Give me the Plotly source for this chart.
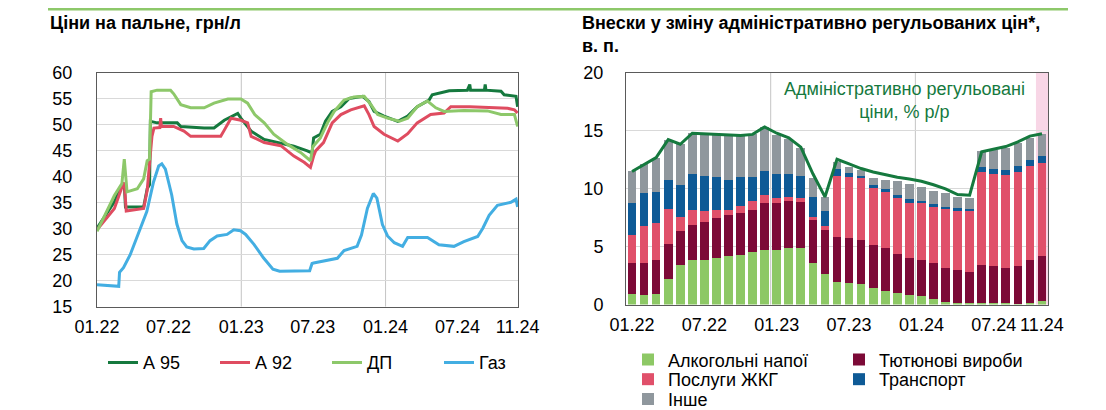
import plotly.graph_objects as go

# --- fuel prices, UAH per litre ---
a95_dates = ['2022-01-01', '2022-02-14', '2022-03-01', '2022-03-11', '2022-03-14', '2022-04-29',
             '2022-05-08', '2022-05-14', '2022-05-16', '2022-06-02', '2022-07-23', '2022-08-01',
             '2022-09-29', '2022-10-24', '2022-11-19', '2022-12-23', '2022-12-31', '2023-01-09',
             '2023-01-26', '2023-02-28', '2023-04-11', '2023-05-14', '2023-06-17', '2023-06-29',
             '2023-07-03', '2023-07-20', '2023-08-02', '2023-08-19', '2023-09-10', '2023-10-01',
             '2023-11-04', '2023-11-20', '2023-12-03', '2023-12-28', '2024-02-01', '2024-02-26',
             '2024-03-21', '2024-04-20', '2024-04-28', '2024-06-10', '2024-07-26', '2024-08-01',
             '2024-08-03', '2024-09-07', '2024-09-09', '2024-09-11', '2024-10-19', '2024-10-27',
             '2024-11-26', '2024-11-30']
a95 = [30.1, 35.2, 37.7, 38.7, 34.2, 34.2,
       37.7, 38.5, 50.7, 50.4, 50.4, 49.7,
       49.4, 49.4, 50.9, 52.2, 51.3, 50.5,
       48.8, 47.2, 46.5, 45.9, 45.0, 44.6,
       47.5, 48.2, 50.7, 52.6, 53.5, 55.1,
       55.5, 54.5, 52.6, 51.7, 50.7, 51.7,
       53.5, 54.8, 55.8, 56.6, 56.7, 57.8,
       56.7, 56.7, 57.8, 56.7, 56.5, 55.8,
       55.5, 53.5]

a92_dates = ['2022-01-01', '2022-02-14', '2022-03-05', '2022-03-11', '2022-03-16', '2022-04-29',
             '2022-05-08', '2022-05-20', '2022-05-25', '2022-06-09', '2022-06-11', '2022-06-13',
             '2022-07-14', '2022-08-09', '2022-08-26', '2022-11-10', '2022-11-19', '2022-12-06',
             '2022-12-31', '2023-01-17', '2023-01-26', '2023-02-28', '2023-04-11', '2023-05-14',
             '2023-06-09', '2023-06-25', '2023-07-03', '2023-07-08', '2023-07-28', '2023-08-19',
             '2023-09-10', '2023-10-05', '2023-11-08', '2023-11-20', '2023-12-03', '2023-12-28',
             '2024-02-01', '2024-02-26', '2024-03-21', '2024-04-24', '2024-05-28', '2024-06-14',
             '2024-08-01', '2024-09-15', '2024-11-05', '2024-11-22', '2024-11-30']
a92 = [29.8, 33.9, 38.0, 38.9, 33.4, 33.9,
       37.4, 47.8, 49.4, 49.5, 51.3, 49.7,
       49.7, 48.8, 47.8, 47.8, 49.0, 51.3,
       50.9, 50.4, 47.8, 46.6, 46.0, 44.0,
       42.8, 41.8, 44.0, 45.0, 46.6, 50.4,
       52.0, 52.9, 53.7, 52.0, 49.7, 48.2,
       46.9, 48.3, 50.4, 52.0, 52.3, 53.5,
       53.5, 53.4, 53.2, 52.9, 52.3]

dp_dates = ['2022-01-01', '2022-02-14', '2022-03-05', '2022-03-11', '2022-03-18', '2022-04-13',
            '2022-04-29', '2022-05-08', '2022-05-14', '2022-05-18', '2022-06-02', '2022-07-06',
            '2022-07-14', '2022-08-01', '2022-08-26', '2022-09-29', '2022-10-24', '2022-11-28',
            '2022-12-31', '2023-01-17', '2023-02-04', '2023-02-28', '2023-03-24', '2023-04-27',
            '2023-05-31', '2023-06-25', '2023-07-01', '2023-07-20', '2023-08-07', '2023-08-24',
            '2023-09-18', '2023-10-13', '2023-11-08', '2023-11-25', '2023-12-12', '2024-01-06',
            '2024-02-05', '2024-02-26', '2024-03-21', '2024-04-16', '2024-05-07', '2024-05-28',
            '2024-07-17', '2024-09-15', '2024-10-19', '2024-11-22', '2024-11-30']
dp = [29.5, 36.4, 38.7, 43.4, 37.1, 37.7,
      39.6, 43.1, 43.4, 56.4, 56.7, 56.7,
      56.0, 53.9, 53.3, 53.3, 54.2, 55.0,
      55.0, 54.2, 52.0, 50.4, 48.2, 46.3,
      44.7, 43.1, 45.8, 47.5, 50.4, 52.6,
      54.8, 55.4, 55.5, 53.9, 52.0, 51.3,
      50.7, 51.3, 53.5, 54.6, 53.3, 52.6,
      52.8, 52.7, 52.0, 52.0, 49.7]

gas_dates = ['2022-01-01', '2022-02-01', '2022-02-25', '2022-02-27', '2022-03-09', '2022-03-26',
             '2022-04-20', '2022-05-07', '2022-05-24', '2022-06-06', '2022-06-14', '2022-06-23',
             '2022-07-01', '2022-07-09', '2022-07-22', '2022-08-04', '2022-08-16', '2022-09-03',
             '2022-09-28', '2022-10-14', '2022-11-01', '2022-11-26', '2022-12-13', '2022-12-30',
             '2023-01-12', '2023-02-02', '2023-02-26', '2023-03-22', '2023-04-08', '2023-06-23',
             '2023-06-29', '2023-07-03', '2023-09-01', '2023-09-18', '2023-10-21', '2023-11-01',
             '2023-11-16', '2023-12-01', '2023-12-10', '2023-12-24', '2024-01-06', '2024-01-23',
             '2024-02-13', '2024-02-26', '2024-04-16', '2024-05-15', '2024-06-22', '2024-07-17',
             '2024-08-21', '2024-09-03', '2024-09-19', '2024-10-10', '2024-11-13', '2024-11-26',
             '2024-11-30']
gas = [19.2, 19.0, 18.9, 21.6, 22.5, 25.0,
       30.1, 33.3, 39.0, 42.1, 42.5, 41.5,
       39.0, 36.5, 30.9, 27.7, 26.5, 26.1,
       26.2, 27.7, 28.6, 28.9, 29.8, 29.6,
       28.9, 27.0, 24.4, 22.2, 21.8, 21.9,
       23.3, 23.4, 24.3, 25.8, 26.6, 28.8,
       33.9, 36.8, 35.9, 30.8, 28.6, 27.3,
       26.6, 28.3, 28.3, 26.9, 26.6, 27.5,
       28.5, 30.1, 32.6, 34.5, 35.1, 35.7,
       34.2]

fuel_ticks = ['2022-01-01', '2022-07-01', '2023-01-01', '2023-07-01', '2024-01-01', '2024-07-01', '2024-11-30']
fuel_ticktext = ['01.22', '07.22', '01.23', '07.23', '01.24', '07.24', '11.24']

# --- contributions to administered prices change, p.p. (01.22 .. 11.24) ---
months = list(range(35))
month_ticks = [0, 6, 12, 18, 24, 30, 34]
month_ticktext = ['01.22', '07.22', '01.23', '07.23', '01.24', '07.24', '11.24']

alcohol = [0.9, 0.8, 0.95, 2.2, 3.45, 3.85, 3.85, 4.05, 4.2, 4.3, 4.5, 4.75, 4.7, 4.85, 4.85, 3.55, 2.6, 1.95,
           1.9, 1.75, 1.45, 1.2, 1.0, 0.8, 0.7, 0.45, 0.25, 0.15, 0.1, 0.1, 0.1, 0.1, 0.08, 0.15, 0.3]
tobacco = [2.7, 2.8, 2.9, 3.0, 2.9, 3.05, 3.25, 3.45, 3.5, 3.6, 3.7, 4.0, 4.1, 4.1, 4.05, 3.75, 3.8, 3.85,
           3.85, 3.8, 3.7, 3.7, 3.4, 3.25, 3.15, 3.1, 2.95, 2.8, 2.7, 3.35, 3.25, 3.1, 3.25, 3.7, 3.9]
utilities = [2.45, 3.15, 3.2, 3.05, 1.2, 1.25, 1.0, 0.65, 0.45, 0.65, 0.75, 0.7, 0.4, 0.35, 0.3, 0.3, 0.35, 5.3,
             5.25, 5.35, 5.0, 4.9, 4.8, 4.75, 4.9, 4.9, 5.05, 5.15, 5.25, 8.0, 7.95, 8.0, 8.1, 8.1, 8.05]
transport = [2.7, 2.85, 2.7, 2.55, 2.75, 3.1, 3.05, 2.85, 2.65, 2.45, 2.1, 2.05, 2.05, 1.95, 1.9, 1.7, 1.3, 0.6,
             0.4, 0.2, 0.15, 0.15, 0.25, 0.3, 0.2, 0.25, 0.2, 0.2, 0.2, 0.4, 0.4, 0.45, 0.5, 0.5, 0.6]
other = [2.75, 2.55, 2.95, 3.4, 3.55, 3.55, 3.6, 3.7, 3.9, 3.6, 3.65, 3.8, 3.4, 3.05, 2.45, 1.6, 1.25, 0.6,
         0.5, 0.5, 0.65, 0.85, 1.25, 1.35, 1.2, 1.15, 1.15, 1.0, 0.95, 1.45, 1.65, 1.9, 2.0, 1.95, 1.85]
admin_yoy = [11.5, 12.1, 12.7, 14.25, 13.85, 14.8, 14.75, 14.7, 14.7, 14.6, 14.7, 15.35, 14.8, 14.4, 13.6, 11.3,
             9.3, 12.55, 12.15, 11.75, 11.45, 11.2, 11.0, 10.85, 10.65, 10.35, 10.0, 9.5, 9.45, 13.2, 13.4,
             13.65, 14.05, 14.55, 14.75]

W, H = 1106, 410
FONT = 'Liberation Sans, Arial, sans-serif'
FRAME = '#5a5a5a'
GRID = '#d9d9d9'
DKGREEN = '#15793E'

fig = go.Figure()

fig.add_trace(go.Scatter(x=a95_dates, y=a95, name='А 95', mode='lines',
                         line=dict(color=DKGREEN, width=3), xaxis='x', yaxis='y', legend='legend'))
fig.add_trace(go.Scatter(x=a92_dates, y=a92, name='А 92', mode='lines',
                         line=dict(color='#DF4C60', width=3), xaxis='x', yaxis='y', legend='legend'))
fig.add_trace(go.Scatter(x=dp_dates, y=dp, name='ДП', mode='lines',
                         line=dict(color='#8DC86A', width=3), xaxis='x', yaxis='y', legend='legend'))
fig.add_trace(go.Scatter(x=gas_dates, y=gas, name='Газ', mode='lines',
                         line=dict(color='#43AEE2', width=3), xaxis='x', yaxis='y', legend='legend'))

bars = [
    ('Алкогольні напої', alcohol, '#8DC865', 'legend2'),
    ('Тютюнові вироби', tobacco, '#7C0A37', 'legend2'),
    ('Послуги ЖКГ', utilities, '#E0506A', 'legend3'),
    ('Транспорт', transport, '#0E5A96', 'legend3'),
    ('Інше', other, '#8F979D', 'legend4'),
]
for name, vals, col, lg in bars:
    fig.add_trace(go.Bar(x=months, y=vals, name=name, marker=dict(color=col, line=dict(width=0)),
                         xaxis='x2', yaxis='y2', legend=lg))

fig.add_trace(go.Scatter(x=months, y=admin_yoy, mode='lines', showlegend=False,
                         line=dict(color=DKGREEN, width=3), xaxis='x2', yaxis='y2'))

axis_common = dict(showline=True, mirror=True, linecolor=FRAME, linewidth=1, ticks='',
                   tickfont=dict(size=18, color='#000'), zeroline=False, automargin=False,
                   tickangle=0)

leg_common = dict(orientation='h', xanchor='left', yanchor='middle', traceorder='normal',
                  font=dict(size=18, color='#000'), bgcolor='rgba(0,0,0,0)')

fig.update_layout(
    width=W, height=H,
    margin=dict(l=0, r=0, t=0, b=0),
    paper_bgcolor='white', plot_bgcolor='white',
    font=dict(family=FONT, size=18, color='#000'),
    barmode='stack', bargap=0.28,
    xaxis=dict(domain=[89 / W, 510 / W], type='date', range=['2022-01-01', '2024-12-01'],
               tickvals=fuel_ticks, ticktext=fuel_ticktext, showgrid=False,
               ticklabelstandoff=4, anchor='y', **axis_common),
    yaxis=dict(domain=[1 - 303 / H, 1 - 66 / H], range=[15, 60], dtick=5, showgrid=True,
               gridcolor=GRID, ticklabelstandoff=20, anchor='x', **axis_common),
    xaxis2=dict(domain=[618 / W, 1040 / W], range=[-0.5, 34.5], tickvals=month_ticks,
                ticktext=month_ticktext, showgrid=False, ticklabelstandoff=4, anchor='y2',
                **axis_common),
    yaxis2=dict(domain=[1 - 301 / H, 1 - 66 / H], range=[0, 20], dtick=5, showgrid=True,
                gridcolor=GRID, ticklabelstandoff=18, anchor='x2', **axis_common),
    legend=dict(x=95 / W, y=1 - 360 / H, entrywidth=67, **leg_common),
    legend2=dict(x=620 / W, y=1 - 357 / H, entrywidth=166, **leg_common),
    legend3=dict(x=620 / W, y=1 - 377 / H, entrywidth=166, **leg_common),
    legend4=dict(x=620 / W, y=1 - 397 / H, entrywidth=166, **leg_common),
)

shapes = [
    # thin green rule across the top of the page
    dict(type='line', xref='paper', yref='paper', x0=40 / W, x1=1060 / W, y0=1 - 1 / H, y1=1 - 1 / H,
         line=dict(color='#8DC86A', width=3)),
    # highlighted last month
    dict(type='rect', xref='x2', yref='y2 domain', x0=33.5, x1=34.5, y0=0, y1=1,
         fillcolor='#F8D6E6', line=dict(width=0), layer='below'),
]
for d in ['2023-01-01', '2024-01-01']:
    shapes.append(dict(type='line', xref='x', yref='y domain', x0=d, x1=d, y0=0, y1=1,
                       line=dict(color='#c4c4c4', width=1), layer='below'))
for m in [11.5, 23.5]:
    shapes.append(dict(type='line', xref='x2', yref='y2 domain', x0=m, x1=m, y0=0, y1=1,
                       line=dict(color='#c4c4c4', width=1), layer='below'))
fig.update_layout(shapes=shapes)

fig.add_annotation(text='<b>Ціни на пальне, грн/л</b>', xref='paper', yref='paper',
                   x=40 / W, y=1 - 3 / H, xanchor='left', yanchor='top', showarrow=False,
                   font=dict(size=18, color='#000'), align='left')
fig.add_annotation(text='<b>Внески у зміну адміністративно регульованих цін*,<br>в. п.</b>',
                   xref='paper', yref='paper', x=572 / W, y=1 - 3 / H, xanchor='left', yanchor='top',
                   showarrow=False, font=dict(size=18, color='#000'), align='left')
fig.add_annotation(text='Адміністративно регульовані<br>ціни, % р/р', xref='paper', yref='paper',
                   x=896 / W, y=1 - 94 / H, xanchor='center', yanchor='middle', showarrow=False,
                   font=dict(size=18, color=DKGREEN), align='center')

fig.write_html("out.html")
